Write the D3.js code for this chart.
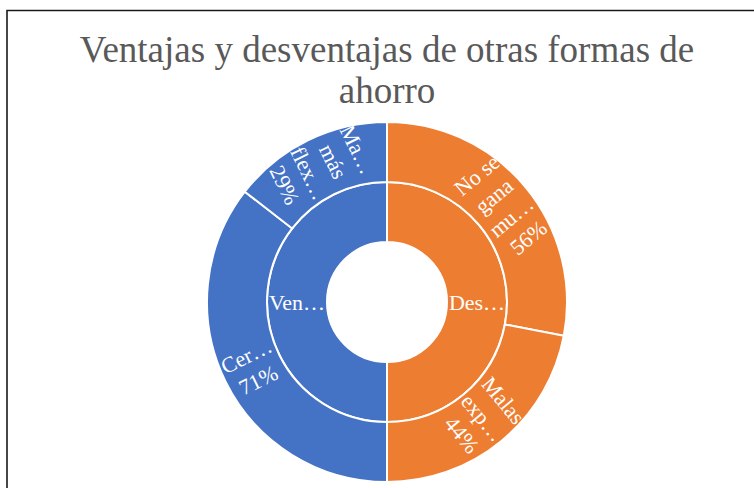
<!DOCTYPE html>
<html>
<head>
<meta charset="utf-8">
<script src="https://cdn.jsdelivr.net/npm/d3@7"></script>
<style>
  html, body { margin: 0; padding: 0; background: #fff; }
  svg { display: block; }
</style>
</head>
<body>
<svg id="chart" width="754" height="488"></svg>
<script>
// sunburst: anel interno = grupos, anel externo = itens (% do grupo)
const titleLines = ['Ventajas y desventajas de otras formas de', 'ahorro'];
const groups = ['Desventajas', 'Ventajas'];
const groupLabels = ['Des…', 'Ven…'];
const groupColors = ['#ED7D31', '#4472C4'];
const itemGroup = ['Desventajas', 'Desventajas', 'Ventajas', 'Ventajas'];
const itemLabels = [['No se', 'gana', 'mu…', '56%'], ['Malas', 'exp…', '44%'], ['Cer…', '71%'], ['Ma…', 'más', 'flex…', '29%']];
const itemValues = [56, 44, 71, 29];

const svg = d3.select('#chart');
const W = 754, H = 488;
const cx = 387, cy = 302;
const r0 = 60, r1 = 120, r2 = 180;

// moldura (só topo e esquerda aparecem)
svg.append('path')
  .attr('d', `M7,${H} V10.5 H${W}`)
  .attr('fill', 'none').attr('stroke', '#1a1a1a').attr('stroke-width', 1.6);

svg.append('text')
  .attr('x', cx).attr('y', 62)
  .attr('text-anchor', 'middle')
  .attr('font-family', '"Liberation Serif", "Times New Roman", serif')
  .attr('font-size', 37).attr('fill', '#595959')
  .selectAll('tspan').data(titleLines).join('tspan')
  .attr('x', cx).attr('dy', (d, i) => i ? 41 : 0)
  .text((d) => d);

// hierarquia: cada grupo soma 100
const root = d3.hierarchy({
  children: groups.map((gName, gi) => ({
    name: gName, gi,
    children: itemValues
      .map((v, i) => ({ name: i, value: v, grp: itemGroup[i] }))
      .filter((d) => d.grp === gName),
  })),
});
root.sum((d) => d.value || 0);
d3.partition().size([2 * Math.PI, 1])(root);

// rótulos longos são cortados na borda externa, como no original
svg.append('defs').append('clipPath').attr('id', 'clip-ring')
  .append('circle').attr('r', r2);

const g = svg.append('g').attr('transform', `translate(${cx},${cy})`);
const arc = d3.arc()
  .startAngle((d) => d.x0).endAngle((d) => d.x1)
  .innerRadius((d) => d.depth === 1 ? r0 : r1)
  .outerRadius((d) => d.depth === 1 ? r1 : r2);

const nodes = root.descendants().filter((d) => d.depth > 0);
const colorOf = (d) => groupColors[(d.depth === 1 ? d : d.parent).data.gi];

g.selectAll('path.seg').data(nodes).join('path')
  .attr('class', 'seg')
  .attr('d', arc)
  .attr('fill', colorOf)
  .attr('stroke', '#fff').attr('stroke-width', 2);

// rótulos radiais, virados para ficar legíveis
const lineH = 27;
g.append('g').attr('clip-path', 'url(#clip-ring)')
  .selectAll('text.lbl').data(nodes).join('text')
  .attr('class', 'lbl')
  .attr('font-family', '"Liberation Serif", "Times New Roman", serif')
  .attr('font-size', 22).attr('fill', '#fff')
  .attr('text-anchor', 'middle')
  .each(function (d) {
    const mid = (d.x0 + d.x1) / 2;
    const deg = mid * 180 / Math.PI;
    const rm = d.depth === 1 ? (r0 + r1) / 2 : (r1 + r2) / 2;
    const x = rm * Math.sin(mid), y = -rm * Math.cos(mid);
    const rot = d.depth === 1 ? 0 : (deg < 180 ? deg - 90 : deg + 90);
    const lines = d.depth === 1 ? [groupLabels[d.data.gi]] : itemLabels[d.data.name];
    const t = d3.select(this).attr('transform', `translate(${x},${y}) rotate(${rot})`);
    t.selectAll('tspan').data(lines).join('tspan')
      .attr('x', 0)
      .attr('y', (s, i) => (i - (lines.length - 1) / 2) * lineH + 7.5)
      .text((s) => s);
  });
</script>
</body>
</html>
